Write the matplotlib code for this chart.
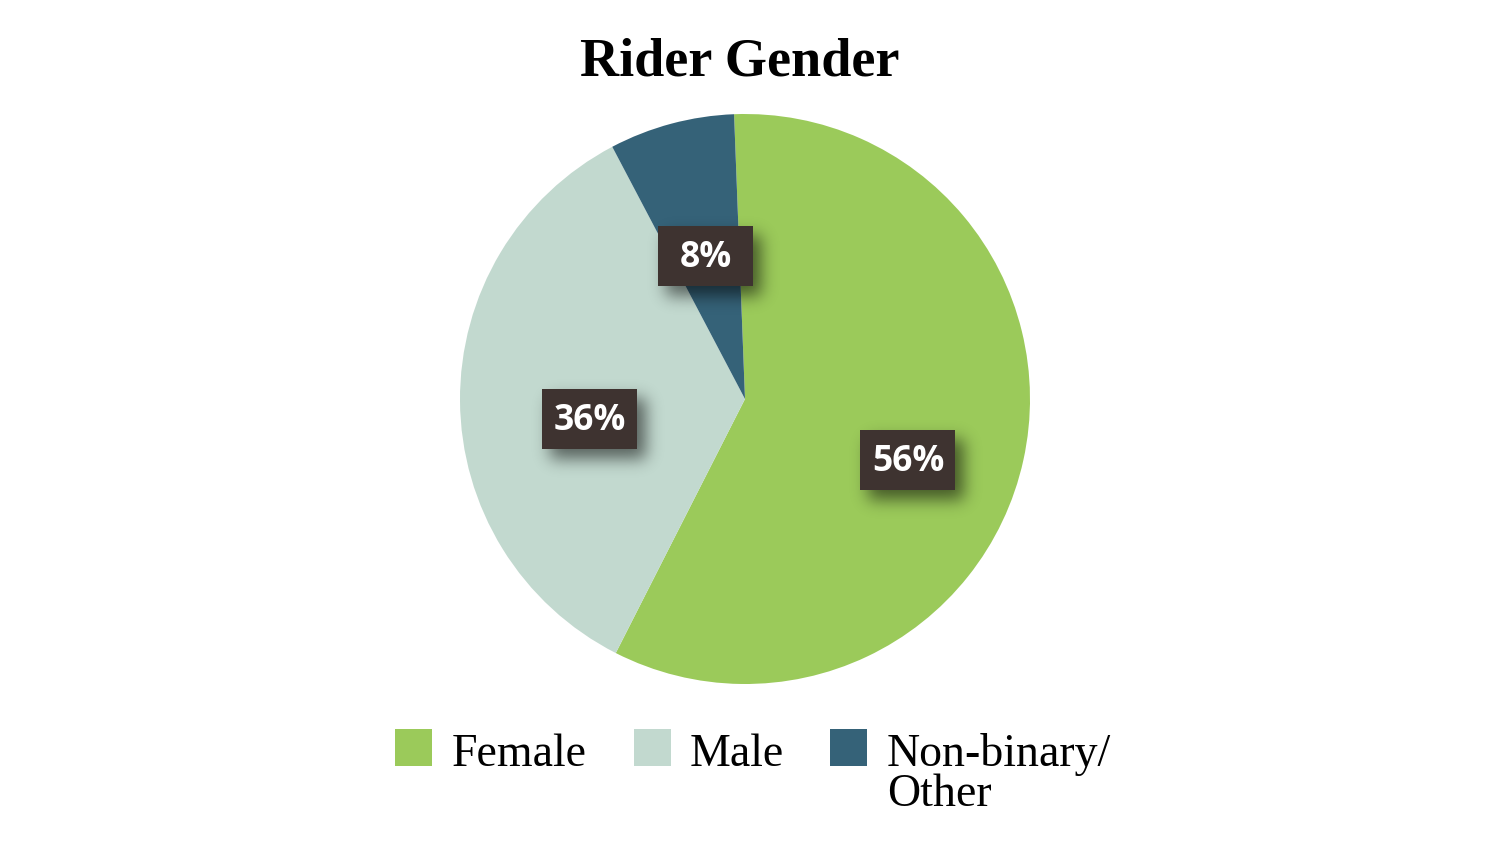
import numpy as np
import matplotlib
matplotlib.use("Agg")
import matplotlib.pyplot as plt
from matplotlib.patches import Rectangle

# ---- data ----
categories = ["Female", "Male", "Non-binary/\nOther"]
shares = [58.1, 34.8, 7.1]          # slice sizes as drawn
label_texts = ["56%", "36%", "8%"]  # printed labels
colors = ["#9BCA5A", "#C2D9CF", "#356278"]
title = "Rider Gender"

W, H, DPI = 1504, 847, 100
fig = plt.figure(figsize=(W / DPI, H / DPI), dpi=DPI)
fig.patch.set_facecolor("white")

# pie axes: center (745,399) px, radius 285 px
R = 285
cx, cy = 745, 399
ax = fig.add_axes([(cx - R) / W, (H - cy - R) / H, 2 * R / W, 2 * R / H])
ax.set_xlim(-1, 1)
ax.set_ylim(-1, 1)
ax.set_aspect("equal")
ax.axis("off")

wedges, _ = ax.pie(shares, colors=colors, startangle=92.2, counterclock=False,
                   radius=1.0, wedgeprops=dict(linewidth=0))

def blurred_box(w, h, margin, sigma):
    arr = np.zeros((h + 2 * margin, w + 2 * margin))
    arr[margin:margin + h, margin:margin + w] = 1.0
    k = np.arange(-3 * sigma, 3 * sigma + 1)
    g = np.exp(-0.5 * (k / sigma) ** 2)
    g /= g.sum()
    arr = np.apply_along_axis(lambda r: np.convolve(r, g, mode="same"), 1, arr)
    arr = np.apply_along_axis(lambda c: np.convolve(c, g, mode="same"), 0, arr)
    return arr

# label placement (radial factor and angular tweak per slice)
label_r = [0.61, 0.55, 0.52]
label_dang = [-8.0, 7.0, 0.5]
box_w, box_h = 95 / R, 60 / R
m = 30
sh = blurred_box(95, 60, m, 8)
rgba = np.zeros(sh.shape + (4,))
rgba[..., 3] = sh * 0.55
for w, txt, rf, da in zip(wedges, label_texts, label_r, label_dang):
    ang = np.deg2rad((w.theta1 + w.theta2) / 2 + da)
    x, y = rf * np.cos(ang), rf * np.sin(ang)
    # shadow
    ox, oy = 8 / R, -10 / R
    ax.imshow(rgba, extent=[x - box_w / 2 - m / R + ox, x + box_w / 2 + m / R + ox,
                            y - box_h / 2 - m / R + oy, y + box_h / 2 + m / R + oy],
              zorder=3, interpolation="bilinear")
    ax.add_patch(Rectangle((x - box_w / 2, y - box_h / 2), box_w, box_h,
                           facecolor="#3E3330", edgecolor="none", zorder=4))
    ax.text(x, y - 2 / R, txt, ha="center", va="center", color="white",
            fontsize=25.5, fontweight="bold", family="Open Sans", zorder=5)
ax.set_xlim(-1, 1)
ax.set_ylim(-1, 1)

# title
fig.text(740 / W, 1 - 75 / H, title, ha="center", va="baseline",
         fontsize=39, fontweight="bold", family="Liberation Serif", color="black")

# legend (manual)
sq_x = [395, 634, 830]
txt_x = [452, 690, 887]
sq = 37
for c, lab, sx, tx in zip(colors, categories, sq_x, txt_x):
    fig.patches.append(Rectangle((sx / W, 1 - 766 / H), sq / W, sq / H,
                                 transform=fig.transFigure, facecolor=c,
                                 edgecolor="none"))
    for i, line in enumerate(lab.split("\n")):
        fig.text(tx / W, 1 - (766 + 40 * i) / H, line, ha="left", va="baseline",
                 fontsize=33, family="Liberation Serif", color="black")

fig.savefig("out.png", dpi=DPI, facecolor="white")
